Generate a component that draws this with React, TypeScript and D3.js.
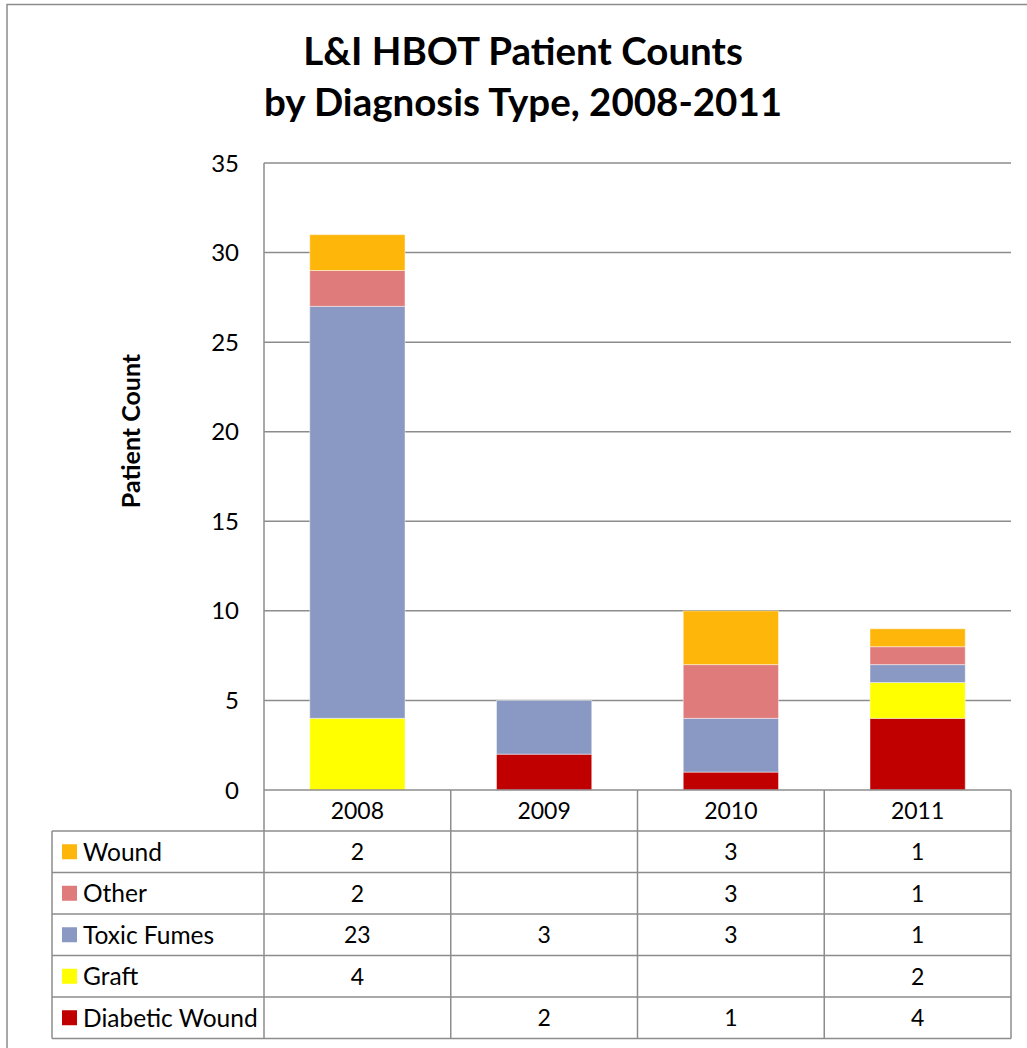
import React, { useRef, useEffect } from 'react';
import * as d3 from 'd3';

const years = ['2008', '2009', '2010', '2011'];
// stacked bottom to top
const seriesNames = ['Diabetic Wound', 'Graft', 'Toxic Fumes', 'Other', 'Wound'];
const diabeticWound = [0, 2, 1, 4];
const graft = [4, 0, 0, 2];
const toxicFumes = [23, 3, 3, 1];
const other = [2, 0, 3, 1];
const wound = [2, 0, 3, 1];
const seriesColors = ['#C00000', '#FFFF00', '#8A99C3', '#E07B7B', '#FFB60A'];
const yTicks = [0, 5, 10, 15, 20, 25, 30, 35];
// table rows, top to bottom
const tableOrder = ['Wound', 'Other', 'Toxic Fumes', 'Graft', 'Diabetic Wound'];

const W = 1027;
const H = 1048;
const FONT = 'Lato, "Open Sans", sans-serif';

export default function App() {
  const ref = useRef(null);

  useEffect(() => {
    const svg = d3.select(ref.current);
    svg.selectAll('*').remove();

    const values = [diabeticWound, graft, toxicFumes, other, wound];
    const rows = years.map((yr, i) => {
      const r: any = { year: yr };
      seriesNames.forEach((s, k) => { r[s] = values[k][i]; });
      return r;
    });

    const left = 264, right = 1011, top = 163, bottom = 790;
    const tableLeft = 52;
    const headerH = 41;
    const rowH = 41.5;
    const tableBottom = bottom + headerH + rowH * tableOrder.length;

    const x = d3.scaleBand().domain(years).range([left, right]).padding(0);
    const y = d3.scaleLinear().domain([0, 35]).range([bottom, top]);
    const color = d3.scaleOrdinal<string, string>().domain(seriesNames).range(seriesColors);
    const barW = x.bandwidth() * 0.51;

    const gridCol = '#8c8c8c';

    // outer border
    svg.append('rect')
      .attr('x', 7).attr('y', 4.5)
      .attr('width', W + 20).attr('height', H + 20)
      .attr('fill', 'white')
      .attr('stroke', gridCol).attr('stroke-width', 1.5);

    // title
    const title = svg.append('text')
      .attr('x', 523).attr('text-anchor', 'middle')
      .style('font-family', FONT).style('font-weight', 'bold')
      .style('font-size', '38.5px').attr('fill', '#000');
    title.append('tspan').attr('x', 523).attr('y', 65).text('L&I HBOT Patient Counts');
    title.append('tspan').attr('x', 523).attr('y', 116).text('by Diagnosis Type, 2008-2011');

    // y axis label
    svg.append('text')
      .attr('transform', 'translate(140,431) rotate(-90)')
      .attr('text-anchor', 'middle')
      .style('font-family', FONT).style('font-weight', 'bold')
      .style('font-size', '25px')
      .text('Patient Count');

    // gridlines
    svg.append('g').selectAll('line')
      .data(yTicks.filter(t => t > 0))
      .join('line')
      .attr('x1', left).attr('x2', right)
      .attr('y1', d => y(d)).attr('y2', d => y(d))
      .attr('stroke', gridCol).attr('stroke-width', 1.5);

    // tick labels
    svg.append('g').selectAll('text')
      .data(yTicks)
      .join('text')
      .attr('x', 239).attr('y', d => y(d))
      .attr('dy', '0.36em')
      .attr('text-anchor', 'end')
      .style('font-family', FONT).style('font-size', '24px')
      .text(d => d);

    // bars
    const stacked = d3.stack().keys(seriesNames)(rows);
    svg.append('g').selectAll('g')
      .data(stacked)
      .join('g')
      .attr('fill', d => color(d.key))
      .selectAll('rect')
      .data(d => d.filter(p => p[1] - p[0] > 0))
      .join('rect')
      .attr('x', d => (x(d.data.year) as number) + (x.bandwidth() - barW) / 2)
      .attr('width', barW)
      .attr('y', d => y(d[1]))
      .attr('height', d => y(d[0]) - y(d[1]))
      .attr('stroke', 'rgba(255,255,255,0.45)')
      .attr('stroke-width', 1);

    // data table
    const tbl = svg.append('g');
    const lineAttr = (sel) => sel.attr('stroke', gridCol).attr('stroke-width', 1.5);

    // horizontal lines
    tbl.append('line').attr('x1', left).attr('x2', right).attr('y1', bottom).attr('y2', bottom).call(lineAttr);
    d3.range(tableOrder.length + 1).forEach(i => {
      const yy = bottom + headerH + i * rowH;
      tbl.append('line').attr('x1', tableLeft).attr('x2', right).attr('y1', yy).attr('y2', yy).call(lineAttr);
    });
    // vertical lines
    tbl.append('line').attr('x1', left).attr('x2', left).attr('y1', top).attr('y2', tableBottom).call(lineAttr);
    tbl.append('line').attr('x1', tableLeft).attr('x2', tableLeft)
      .attr('y1', bottom + headerH).attr('y2', tableBottom).call(lineAttr);
    years.forEach(yr => {
      const xx = (x(yr) as number) + x.bandwidth();
      tbl.append('line').attr('x1', xx).attr('x2', xx).attr('y1', bottom).attr('y2', tableBottom).call(lineAttr);
    });

    // header years
    tbl.selectAll('text.year')
      .data(years)
      .join('text')
      .attr('class', 'year')
      .attr('x', d => (x(d) as number) + x.bandwidth() / 2)
      .attr('y', bottom + headerH / 2)
      .attr('dy', '0.36em')
      .attr('text-anchor', 'middle')
      .style('font-family', FONT).style('font-size', '23px')
      .text(d => d);

    tableOrder.forEach((name, ri) => {
      const cy = bottom + headerH + ri * rowH + rowH / 2;
      tbl.append('rect')
        .attr('x', 62).attr('y', cy - 7.5)
        .attr('width', 15).attr('height', 15)
        .attr('fill', color(name));
      tbl.append('text')
        .attr('x', 83).attr('y', cy).attr('dy', '0.36em')
        .style('font-family', FONT).style('font-size', '24.5px')
        .text(name);
      const vals = values[seriesNames.indexOf(name)];
      years.forEach((yr, ci) => {
        if (!vals[ci]) return;
        tbl.append('text')
          .attr('x', (x(yr) as number) + x.bandwidth() / 2)
          .attr('y', cy).attr('dy', '0.36em')
          .attr('text-anchor', 'middle')
          .style('font-family', FONT).style('font-size', '23px')
          .text(vals[ci]);
      });
    });
  }, []);

  return (
    <svg ref={ref} width={W} height={H}
      style={{ position: 'absolute', left: 0, top: 0, background: 'white' }} />
  );
}
